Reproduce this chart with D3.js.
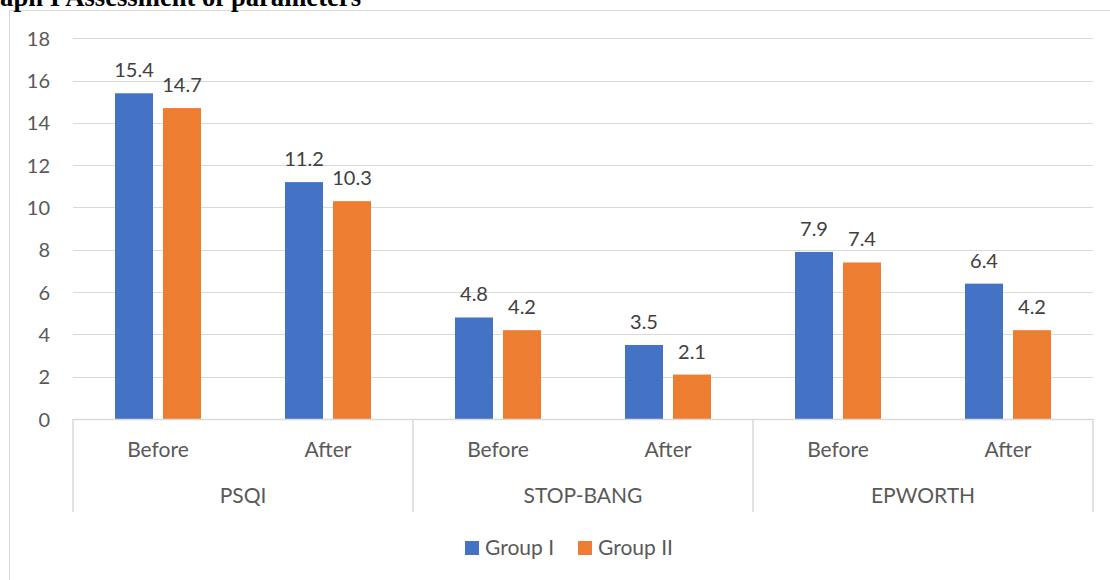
<!DOCTYPE html>
<html>
<head>
<meta charset="utf-8">
<script src="https://cdn.jsdelivr.net/npm/d3@7"></script>
<style>
  html, body { margin: 0; padding: 0; background: #fff; }
  svg { display: block; }
</style>
</head>
<body>
<svg id="chart" width="1110" height="580"></svg>
<script>
// Assessment scores before and after, per instrument and group
const instruments = ["PSQI", "STOP-BANG", "EPWORTH"];
const phases = ["Before", "After"];
const seriesNames = ["Group I", "Group II"];
const groupI = [15.4, 11.2, 4.8, 3.5, 7.9, 6.4];
const groupII = [14.7, 10.3, 4.2, 2.1, 7.4, 4.2];
const yTicks = [0, 2, 4, 6, 8, 10, 12, 14, 16, 18];
const colors = ["#4472C4", "#ED7D31"];

const svg = d3.select("#chart");
const W = 1110, H = 580;
const plotLeft = 73, plotRight = 1093, plotTop = 38.3, plotBottom = 419;
const font = "Lato, 'Open Sans', sans-serif";
const numSize = 20, labelSize = 21;

// Outer frame (only the top and left edges are in view)
svg.append("line").attr("x1", 9).attr("x2", W).attr("y1", 10.5).attr("y2", 10.5)
  .attr("stroke", "#d9d9d9").attr("stroke-width", 1);
svg.append("line").attr("x1", 9.5).attr("x2", 9.5).attr("y1", 10).attr("y2", H)
  .attr("stroke", "#d9d9d9").attr("stroke-width", 1);

// Caption line above the frame
const titleText = "Graph I Assessment of parameters";
const probe = svg.append("text").attr("font-family", "'Liberation Serif', 'Times New Roman', serif")
  .attr("font-weight", "bold").attr("font-size", 20).text("aph I Assessment of parameters");
const probeLen = probe.node().getComputedTextLength();
probe.remove();
const titleSize = 20 * 361 / probeLen;
svg.append("text")
  .attr("x", 361).attr("y", 5.5)
  .attr("text-anchor", "end")
  .attr("font-family", "'Liberation Serif', 'Times New Roman', serif")
  .attr("font-weight", "bold").attr("font-size", titleSize)
  .attr("fill", "#000")
  .text(titleText);

// Flattened categories: one slot per instrument/phase pair
const slots = [];
instruments.forEach(inst => phases.forEach(ph => slots.push({ inst, ph, key: inst + "|" + ph })));
slots.forEach((s, i) => { s.values = [groupI[i], groupII[i]]; });

const x = d3.scaleBand().domain(slots.map(s => s.key)).range([plotLeft, plotRight]).paddingInner(0).paddingOuter(0);
const xInner = d3.scaleBand().domain(seriesNames).range([0, x.bandwidth()]).paddingInner(0.208).paddingOuter(0.875);
const y = d3.scaleLinear().domain([0, 18]).range([plotBottom, plotTop]);

// Horizontal gridlines
svg.append("g").selectAll("line").data(yTicks.filter(t => t > 0)).join("line")
  .attr("x1", plotLeft).attr("x2", plotRight)
  .attr("y1", d => Math.round(y(d)) + 0.5).attr("y2", d => Math.round(y(d)) + 0.5)
  .attr("stroke", "#d9d9d9").attr("stroke-width", 1);

// Y axis labels
const yAxis = d3.axisLeft(y).tickValues(yTicks).tickSize(0).tickPadding(0);
const yg = svg.append("g").attr("transform", `translate(${plotLeft - 23},0)`).call(yAxis);
yg.select(".domain").remove();
yg.selectAll("text").attr("font-family", font).attr("font-size", numSize).attr("fill", "#595959")
  .attr("dy", "0.35em");

// Bars
const slotG = svg.append("g").selectAll("g").data(slots).join("g")
  .attr("transform", d => `translate(${x(d.key)},0)`);
slotG.selectAll("rect").data(d => d.values.map((v, j) => ({ v, name: seriesNames[j], j }))).join("rect")
  .attr("x", d => xInner(d.name))
  .attr("width", xInner.bandwidth())
  .attr("y", d => y(d.v))
  .attr("height", d => y(0) - y(d.v))
  .attr("fill", d => colors[d.j]);

// Value labels
slotG.selectAll("text").data(d => d.values.map((v, j) => ({ v, name: seriesNames[j], j }))).join("text")
  .attr("x", d => xInner(d.name) + xInner.bandwidth() / 2)
  .attr("y", d => y(d.v) - 16)
  .attr("text-anchor", "middle")
  .attr("font-family", font).attr("font-size", numSize).attr("fill", "#404040")
  .text(d => d3.format(".1f")(d.v));

// Category axis: baseline and dividers
const axisCol = "#d9d9d9";
svg.append("line").attr("x1", plotLeft).attr("x2", plotRight).attr("y1", plotBottom + 0.5).attr("y2", plotBottom + 0.5)
  .attr("stroke", axisCol).attr("stroke-width", 1.5);
const dividers = instruments.map(inst => x(inst + "|" + phases[0])).concat([plotRight]);
svg.append("g").selectAll("line").data(dividers).join("line")
  .attr("x1", d => d).attr("x2", d => d)
  .attr("y1", plotBottom).attr("y2", 512)
  .attr("stroke", axisCol).attr("stroke-width", 1.5);

// Phase labels
svg.append("g").selectAll("text").data(slots).join("text")
  .attr("x", d => x(d.key) + x.bandwidth() / 2)
  .attr("y", 457)
  .attr("text-anchor", "middle")
  .attr("font-family", font).attr("font-size", labelSize).attr("fill", "#595959")
  .text(d => d.ph);

// Instrument labels
svg.append("g").selectAll("text").data(instruments).join("text")
  .attr("x", d => x(d + "|" + phases[0]) + x.bandwidth())
  .attr("y", 503)
  .attr("text-anchor", "middle")
  .attr("font-family", font).attr("font-size", labelSize).attr("fill", "#595959")
  .text(d => d);

// Legend
const legendItems = [{ name: seriesNames[0], x: 465 }, { name: seriesNames[1], x: 578 }];
const lg = svg.append("g").selectAll("g").data(legendItems).join("g")
  .attr("transform", d => `translate(${d.x},541)`);
lg.append("rect").attr("width", 14).attr("height", 14).attr("fill", (d, i) => colors[i]);
lg.append("text").attr("x", 20).attr("y", 14)
  .attr("font-family", font).attr("font-size", labelSize).attr("fill", "#595959")
  .text(d => d.name);
</script>
</body>
</html>
